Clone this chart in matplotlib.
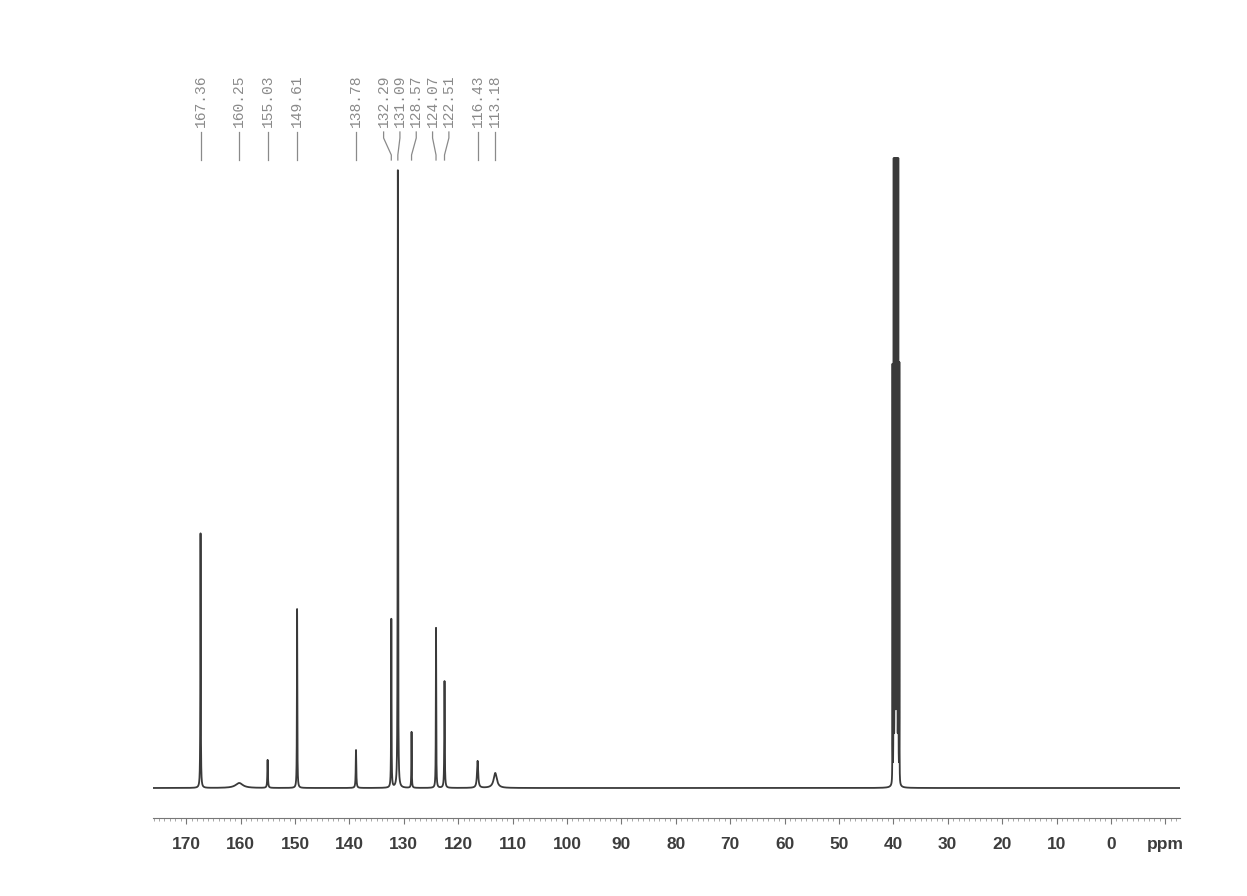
import numpy as np
import matplotlib
matplotlib.use("Agg")
import matplotlib.pyplot as plt
from matplotlib.ticker import MultipleLocator, FixedLocator

# --- peak list (ppm, height above baseline, line width in ppm) ---
peak_ppm = [167.36, 160.25, 155.03, 149.61, 138.78, 132.29, 131.09,
            128.57, 124.07, 122.51, 116.43, 113.18]
peak_height = [255, 5, 28, 179, 38, 169, 618, 56, 160, 107, 27, 15]
peak_width = [0.08, 1.6, 0.12, 0.08, 0.12, 0.08, 0.08, 0.08, 0.08, 0.10, 0.25, 0.7]

# DMSO-d6 solvent septet (clipped at top of plot)
dmso_ppm = [40.15, 39.94, 39.73, 39.52, 39.31, 39.10, 38.89]
dmso_height = [420, 1300, 2600, 3000, 2600, 1300, 420]
clip_top = 630

tick_values = list(range(170, -1, -10))
tick_labels = [str(v) for v in tick_values]

# --- build spectrum from the peak list ---
ppm = np.linspace(176.1, -12.7, 40000)
intensity = np.zeros_like(ppm)
for c, h, w in zip(peak_ppm, peak_height, peak_width):
    intensity += h / (1 + ((ppm - c) / (w / 2)) ** 2)
for c, h in zip(dmso_ppm, dmso_height):
    intensity += h / (1 + ((ppm - c) / 0.012) ** 2)
intensity = np.minimum(intensity, clip_top)

fig = plt.figure(figsize=(12.47, 8.96), dpi=100)
ax = fig.add_axes([153 / 1247, 78 / 896, (1180 - 153) / 1247, (818 - 150) / 896])
ax.plot(ppm, intensity, color="#3a3a3a", lw=1.3)
ax.set_xlim(176.1, -12.7)
ax.set_ylim(-30, 638)

for s in ["top", "left", "right"]:
    ax.spines[s].set_visible(False)
ax.spines["bottom"].set_color("#777777")
ax.set_yticks([])
ax.xaxis.set_major_locator(FixedLocator(tick_values + [-10]))
ax.set_xticklabels(tick_labels + ["ppm"])
ax.xaxis.set_minor_locator(MultipleLocator(1))
ax.tick_params(axis="x", which="major", length=4, color="#777777", pad=9.5,
               labelsize=12.5, labelcolor="#3d3d3d")
ax.tick_params(axis="x", which="minor", length=1.8, color="#999999")
for lab in ax.get_xticklabels():
    lab.set_fontfamily("Liberation Sans")
    lab.set_fontweight("bold")

# --- peak labels, spread so they don't overlap ---
gap = 3.0
order = sorted(peak_ppm, reverse=True)
clusters = [[p] for p in order]
merged = True
while merged:
    merged = False
    pos = []
    for cl in clusters:
        mid = np.mean(cl)
        n = len(cl)
        pos.append([mid + gap * ((n - 1) / 2 - i) for i in range(n)])
    for i in range(len(clusters) - 1):
        if pos[i][-1] - pos[i + 1][0] < gap:
            clusters[i] = clusters[i] + clusters[i + 1]
            del clusters[i + 1]
            merged = True
            break
label_pos = [p for cl in pos for p in cl]

trans = ax.get_xaxis_transform()
def fy(py):
    return (818 - py) / 668

for p, lp in zip(order, label_pos):
    ax.plot([lp, lp, p, p], [fy(132), fy(138), fy(155), fy(160)], transform=trans,
            color="#8a8a8a", lw=0.9, clip_on=False)
    ax.text(lp, fy(127), f"{p:.2f}", rotation=90, ha="center", va="bottom",
            transform=trans, fontsize=10.5, color="#8a8a8a",
            family="Liberation Mono")

fig.savefig("out.png", dpi=100, facecolor="white")
